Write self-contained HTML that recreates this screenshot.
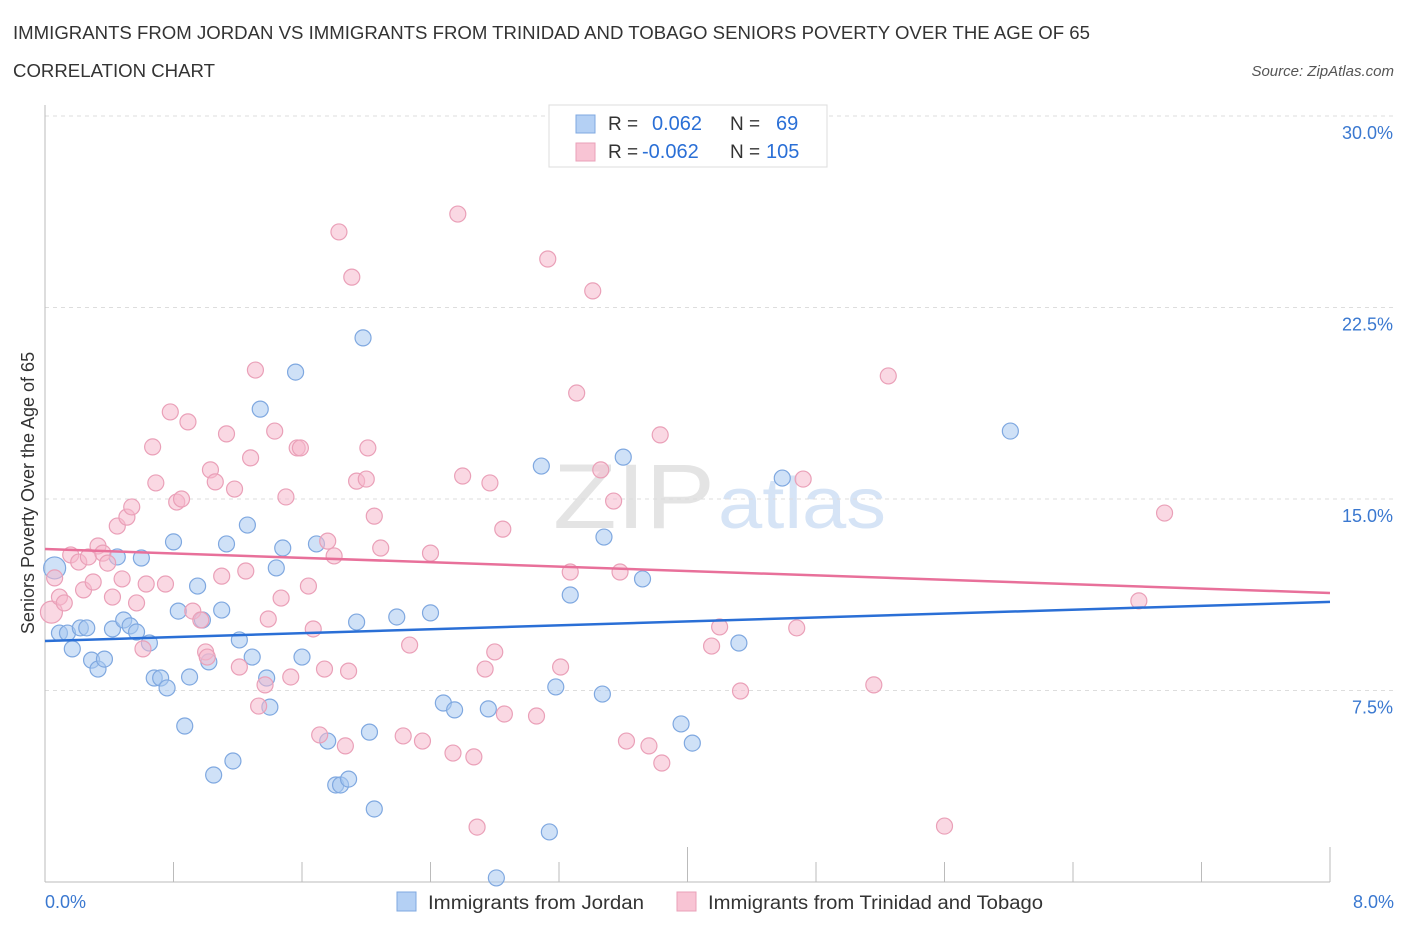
<!DOCTYPE html>
<html><head><meta charset="utf-8"><style>
body{margin:0;background:#fff;font-family:"Liberation Sans",sans-serif;}
svg text{font-family:"Liberation Sans",sans-serif;}
</style></head><body>
<svg id="chart" width="1406" height="930">
<text x="13" y="39" font-size="18" fill="#333" textLength="1077" lengthAdjust="spacingAndGlyphs">IMMIGRANTS FROM JORDAN VS IMMIGRANTS FROM TRINIDAD AND TOBAGO SENIORS POVERTY OVER THE AGE OF 65</text>
<text x="13" y="77" font-size="18" fill="#333" textLength="202" lengthAdjust="spacingAndGlyphs">CORRELATION CHART</text>
<text x="1394" y="76" font-size="15" fill="#555" font-style="italic" text-anchor="end">Source: ZipAtlas.com</text>
<text x="553" y="528" font-size="92" fill="#e4e4e4" textLength="162" lengthAdjust="spacingAndGlyphs" font-family="Liberation Serif">ZIP</text>
<text x="718" y="528" font-size="72" fill="#d6e4f6" textLength="168" lengthAdjust="spacingAndGlyphs">atlas</text>
<g id="grid"></g><g id="axes"></g><g id="pts"></g><g id="lines"></g>
<text x="-493" y="34" transform="rotate(-90)" font-size="18" fill="#333" text-anchor="middle">Seniors Poverty Over the Age of 65</text>
<text x="45" y="908" font-size="18" fill="#3a78d0">0.0%</text>
<text x="1394" y="908" font-size="18" fill="#3a78d0" text-anchor="end">8.0%</text>
<g>
<rect x="549" y="105" width="278" height="62" fill="#fff" stroke="#ddd"/>
<rect x="576" y="115" width="19" height="18" fill="#b4d0f4" stroke="#7fa8e0"/>
<rect x="576" y="143" width="19" height="18" fill="#f8c4d4" stroke="#eaa0b8"/>
<text x="608" y="130" font-size="19" fill="#333">R = <tspan fill="#2a6fd6" x="652" font-size="20">0.062</tspan><tspan x="730">N =</tspan><tspan fill="#2a6fd6" x="776" font-size="20">69</tspan></text>
<text x="608" y="158" font-size="19" fill="#333">R = <tspan fill="#2a6fd6" x="642" font-size="20">-0.062</tspan><tspan x="730">N =</tspan><tspan fill="#2a6fd6" x="766" font-size="20">105</tspan></text>
</g>
<g>
<rect x="397" y="892" width="19" height="19" fill="#b4d0f4" stroke="#7fa8e0"/>
<text x="428" y="909" font-size="19" fill="#333" textLength="216" lengthAdjust="spacingAndGlyphs">Immigrants from Jordan</text>
<rect x="677" y="892" width="19" height="19" fill="#f8c4d4" stroke="#eaa0b8"/>
<text x="708" y="909" font-size="19" fill="#333" textLength="335" lengthAdjust="spacingAndGlyphs">Immigrants from Trinidad and Tobago</text>
</g>
</svg>
<script>
const blueX=[0.06,0.09,0.14,0.17,0.22,0.26,0.29,0.33,0.37,0.42,0.45,0.49,0.53,0.57,0.60,0.65,0.68,0.72,0.76,0.80,0.83,0.87,0.90,0.95,0.98,1.02,1.05,1.10,1.13,1.17,1.21,1.26,1.29,1.34,1.38,1.40,1.44,1.48,1.56,1.60,1.69,1.76,1.81,1.84,1.89,1.94,1.98,2.02,2.05,2.19,2.40,2.48,2.55,2.76,2.81,3.09,3.14,3.18,3.27,3.47,3.48,3.60,3.72,3.96,4.03,4.32,4.59,6.01];
const blueY=[12.30,9.75,9.75,9.13,9.95,9.95,8.69,8.34,8.73,9.91,12.73,10.26,10.03,9.79,12.69,9.36,7.99,7.99,7.60,13.32,10.61,6.11,8.03,11.59,10.26,8.62,4.19,10.65,13.24,4.74,9.48,13.98,8.81,18.52,7.99,6.85,12.30,13.08,19.97,8.81,13.24,5.52,3.80,3.80,4.03,10.18,21.31,5.87,2.86,10.38,10.54,7.01,6.74,6.78,0.16,16.29,1.96,7.64,11.24,7.36,13.51,16.64,11.87,6.19,5.44,9.36,15.82,17.66];
const pinkX=[0.04,0.06,0.09,0.12,0.16,0.21,0.24,0.27,0.30,0.33,0.36,0.39,0.42,0.45,0.48,0.51,0.54,0.57,0.61,0.63,0.67,0.69,0.75,0.78,0.82,0.85,0.89,0.92,0.97,1.00,1.01,1.03,1.06,1.10,1.13,1.18,1.21,1.25,1.28,1.31,1.33,1.37,1.39,1.43,1.47,1.50,1.53,1.57,1.59,1.64,1.67,1.71,1.74,1.76,1.80,1.83,1.87,1.89,1.91,1.94,2.00,2.01,2.05,2.09,2.27,2.23,2.35,2.40,2.54,2.57,2.60,2.67,2.69,2.74,2.77,2.80,2.85,2.86,3.06,3.13,3.21,3.27,3.31,3.41,3.46,3.54,3.58,3.62,3.76,3.83,3.84,4.15,4.20,4.33,4.68,4.72,5.16,5.25,5.60,6.81,6.97];
const pinkY=[10.57,11.91,11.16,10.93,12.81,12.53,11.44,12.73,11.75,13.16,12.88,12.49,11.16,13.94,11.87,14.29,14.69,10.93,9.13,11.67,17.04,15.63,11.67,18.41,14.88,15.00,18.02,10.61,10.26,9.01,8.81,16.14,15.67,11.98,17.55,15.39,8.42,12.18,16.61,20.05,6.89,7.72,10.30,17.66,11.12,15.08,8.03,17.00,17.00,11.59,9.91,5.76,8.34,13.35,12.77,25.46,5.33,8.26,23.69,15.70,15.78,17.00,14.33,13.08,9.28,5.72,5.52,12.88,5.05,26.16,15.90,4.90,2.15,8.34,15.63,9.01,13.82,6.58,6.50,24.40,8.42,12.14,19.15,23.15,16.14,14.92,12.14,5.52,5.33,17.51,4.66,9.24,9.99,7.48,9.95,15.78,7.72,19.82,2.19,11.01,14.45];
const trendX=[0,8];
const blueTrend=[9.44,10.97];
const pinkTrend=[13.04,11.32];
const yTicks=[7.5,15,22.5,30];
const yTickLabels=["7.5%","15.0%","22.5%","30.0%"];
const xTicks=[0,0.8,1.6,2.4,3.2,4.0,4.8,5.6,6.4,7.2,8.0];
const NS="http://www.w3.org/2000/svg";
const sx=v=>45+v/8*1285, sy=v=>882-v/7.5*191.5;
function mk(t,a,p){const e=document.createElementNS(NS,t);for(const k in a)e.setAttribute(k,a[k]);p.appendChild(e);return e;}
const grid=document.getElementById('grid'),axes=document.getElementById('axes'),pts=document.getElementById('pts'),lines=document.getElementById('lines');
yTicks.forEach((v,i)=>{const l=mk('line',{x1:45,x2:1394,y1:sy(v),y2:sy(v),stroke:'#ddd','stroke-dasharray':'4,4'},grid);


const t=mk('text',{x:1393,y:sy(v)+23,'font-size':18,fill:'#3a78d0','text-anchor':'end'},grid);t.textContent=yTickLabels[i];

});
const ax=mk('line',{x1:45,x2:45,y1:105,y2:882,stroke:'#bbb'},axes);


const bx=mk('line',{x1:45,x2:1330,y1:882,y2:882,stroke:'#bbb'},axes);


xTicks.forEach(v=>{if(v==0)return;const tall=(Math.abs(v-4)<0.01||Math.abs(v-8)<0.01);const t=mk('line',{x1:sx(v),x2:sx(v),y1:882,y2:tall?847:862,stroke:'#bbb'},axes);

});
function dots(X,Y,f,s,name){X.forEach((x,i)=>{const c=mk('circle',{cx:sx(x),cy:sy(Y[i]),r:i==0?11:8,fill:f,'fill-opacity':0.55,stroke:s,'stroke-width':1.2},pts);

});}
dots(blueX,blueY,'#a8c8f0','#7fa8e0','jordan-point');
dots(pinkX,pinkY,'#f6b8cc','#eaa0b8','trinidad-point');
const bl=mk('line',{x1:sx(trendX[0]),y1:sy(blueTrend[0]),x2:sx(trendX[1]),y2:sy(blueTrend[1]),stroke:'#2a6fd6','stroke-width':2.5},lines);


const pl=mk('line',{x1:sx(trendX[0]),y1:sy(pinkTrend[0]),x2:sx(trendX[1]),y2:sy(pinkTrend[1]),stroke:'#e8709a','stroke-width':2.5},lines);


</script>
</body></html>
